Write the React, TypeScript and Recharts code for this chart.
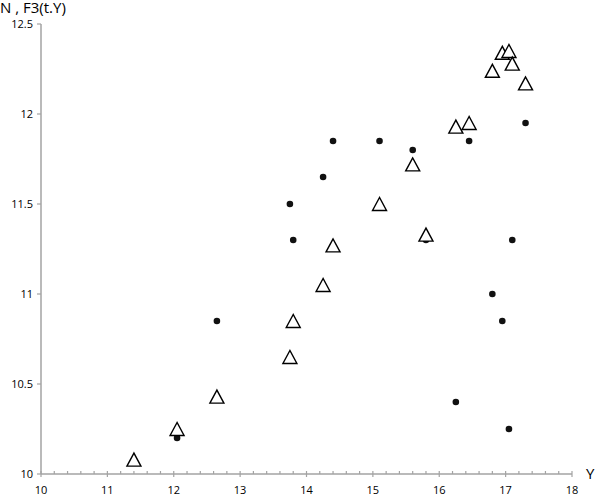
import { Scatter, ScatterChart, XAxis, YAxis } from "recharts"

const dotX = [12.05, 12.65, 13.75, 13.8, 14.25, 14.4, 15.1, 15.6, 15.8, 16.25, 16.45, 16.8, 16.95, 17.05, 17.1, 17.3]
const dotY = [10.2, 10.85, 11.5, 11.3, 11.65, 11.85, 11.85, 11.8, 11.3, 10.4, 11.85, 11.0, 10.85, 10.25, 11.3, 11.95]

const triX = [11.4, 12.05, 12.65, 13.75, 13.8, 14.25, 14.4, 15.1, 15.6, 15.8, 16.25, 16.45, 16.8, 16.95, 17.05, 17.1, 17.3]
const triY = [10.08, 10.25, 10.43, 10.65, 10.85, 11.05, 11.27, 11.5, 11.72, 11.33, 11.93, 11.95, 12.24, 12.34, 12.35, 12.28, 12.17]

const xMajor = [10, 11, 12, 13, 14, 15, 16, 17, 18]
const yTicks = [10, 10.5, 11, 11.5, 12, 12.5]

// minor ticks every 0.2 along x
const xAllTicks: number[] = []
for (let i = 0; i <= 40; i++) xAllTicks.push(Math.round((10 + i * 0.2) * 10) / 10)

const dots = dotX.map((x, i) => ({ x, y: dotY[i] }))
const tris = triX.map((x, i) => ({ x, y: triY[i] }))

const AXIS = "#a3a3a3"
const FONT = "'Open Sans', sans-serif"

function XTick(props: any) {
  const { x, y, payload } = props
  const major = xMajor.includes(payload.value)
  return (
    <g>
      <line x1={x} x2={x} y1={y - 3} y2={major ? y + 3 : y} stroke={AXIS} strokeWidth={1.2} />
      {major && (
        <text x={x} y={y + 20} textAnchor="middle" fontSize={11} fontFamily={FONT} fill="#000">
          {payload.value}
        </text>
      )}
    </g>
  )
}

function Dot(props: any) {
  const { cx, cy } = props
  return <circle cx={cx} cy={cy} r={3.3} fill="#111" />
}

function Tri(props: any) {
  const { cx, cy } = props
  return (
    <path
      d={`M${cx},${cy - 6.5} L${cx - 7},${cy + 6.5} L${cx + 7},${cy + 6.5} Z`}
      fill="#fff"
      stroke="#000"
      strokeWidth={1.4}
    />
  )
}

export default function App() {
  return (
    <div style={{ position: "absolute", left: 0, top: 0, width: 595, height: 497, background: "#fff" }}>
      <ScatterChart width={595} height={497} margin={{ top: 24, right: 23, bottom: 0, left: 0 }}>
        <XAxis
          type="number"
          dataKey="x"
          domain={[10, 18]}
          ticks={xAllTicks}
          interval={0}
          tick={<XTick />}
          tickLine={false}
          tickSize={0}
          tickMargin={0}
          axisLine={{ stroke: AXIS, strokeWidth: 1.5 }}
          height={23}
          allowDataOverflow
        />
        <YAxis
          type="number"
          dataKey="y"
          domain={[10, 12.5]}
          ticks={yTicks}
          interval={0}
          width={41}
          tickSize={4}
          tickMargin={4}
          tickLine={{ stroke: AXIS, strokeWidth: 1.2 }}
          axisLine={{ stroke: AXIS, strokeWidth: 1.5 }}
          tick={{ fill: "#000", fontSize: 11, fontFamily: FONT }}
          allowDataOverflow
        />
        <Scatter data={dots} shape={<Dot />} isAnimationActive={false} />
        <Scatter data={tris} shape={<Tri />} isAnimationActive={false} />
      </ScatterChart>
      <div style={{ position: "absolute", left: 0, top: 1, fontFamily: FONT, fontSize: 15, lineHeight: "13px", color: "#000", whiteSpace: "nowrap" }}>
        N , F3(t.Y)
      </div>
      <div style={{ position: "absolute", left: 586, top: 463, fontFamily: FONT, fontSize: 15, color: "#000" }}>
        Y
      </div>
    </div>
  )
}
